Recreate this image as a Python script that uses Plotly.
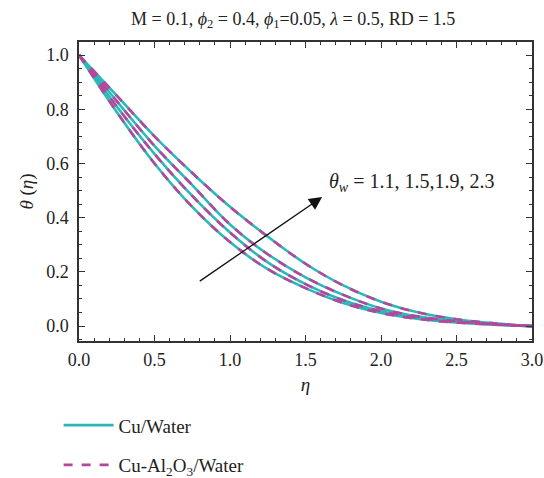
import plotly.graph_objects as go

eta = [0.0, 0.25, 0.5, 0.75, 1.0, 1.25, 1.5, 1.75, 2.0, 2.25, 2.5, 2.75, 3.0]
theta_w_11 = [1.0, 0.79, 0.60, 0.44, 0.31, 0.21, 0.14, 0.085, 0.048, 0.026, 0.013, 0.005, 0.0]
theta_w_15 = [1.0, 0.81, 0.635, 0.48, 0.345, 0.235, 0.155, 0.095, 0.055, 0.03, 0.015, 0.006, 0.0]
theta_w_19 = [1.0, 0.83, 0.665, 0.52, 0.375, 0.265, 0.18, 0.115, 0.065, 0.035, 0.018, 0.007, 0.0]
theta_w_23 = [1.0, 0.85, 0.70, 0.565, 0.44, 0.33, 0.23, 0.15, 0.09, 0.05, 0.025, 0.01, 0.0]
curves = [theta_w_11, theta_w_15, theta_w_19, theta_w_23]
series_names = ["Cu/Water", "Cu-Al<sub>2</sub>O<sub>3</sub>/Water"]

CYAN = "#2BB8B8"
MAG = "#B4479C"
FONT = "Liberation Serif"
TXT = "#222222"

fig = go.Figure()
for i, c in enumerate(curves):
    fig.add_trace(go.Scatter(x=eta, y=c, mode="lines", line=dict(color=CYAN, width=2.6, shape="spline"),
                             name=series_names[0], legendgroup="a", showlegend=(i == 0)))
for i, c in enumerate(curves):
    fig.add_trace(go.Scatter(x=eta, y=c, mode="lines", line=dict(color=MAG, width=2.6, dash="dash", shape="spline"),
                             name=series_names[1], legendgroup="b", showlegend=(i == 0)))

axis_common = dict(showline=True, linecolor="#333333", linewidth=1.5, mirror="allticks",
                   ticks="inside", ticklen=6, tickcolor="#333333", showgrid=False, zeroline=False,
                   automargin=False,
                   tickfont=dict(family=FONT, size=18, color=TXT))

fig.update_xaxes(range=[0, 3.0], dtick=0.5, tickformat=".1f", ticklabelstandoff=2,
                 minor=dict(dtick=0.1, ticks="inside", ticklen=3, tickcolor="#333333"),
                 title=dict(text="<i>η</i>", font=dict(family=FONT, size=19, color=TXT), standoff=8),
                 **axis_common)
fig.update_yaxes(range=[-0.055, 1.048], dtick=0.2, tickformat=".1f", ticklabelstandoff=5,
                 minor=dict(dtick=0.05, ticks="inside", ticklen=3, tickcolor="#333333"),
                 title=dict(text="<i>θ</i> (<i>η</i>)", font=dict(family=FONT, size=19, color=TXT), standoff=8),
                 **axis_common)

fig.add_annotation(x=1.61, y=0.476, ax=0.79, ay=0.162, xref="x", yref="y", axref="x", ayref="y",
                   text="", showarrow=True, arrowhead=2, arrowsize=2.0, arrowwidth=1.3, arrowcolor="#111111")
fig.add_annotation(x=1.64, y=0.528, xref="x", yref="y", xanchor="left", yanchor="middle",
                   text="<i>θ</i><sub><i>w</i></sub> = 1.1, 1.5,1.9, 2.3", showarrow=False,
                   font=dict(family=FONT, size=20, color=TXT))

fig.update_layout(
    width=544, height=478,
    margin=dict(l=79, r=12, t=42, b=137),
    paper_bgcolor="white", plot_bgcolor="white",
    title=dict(text="M = 0.1, <i>ϕ</i><sub>2</sub> = 0.4, <i>ϕ</i><sub>1</sub>=0.05, <i>λ</i> = 0.5, RD = 1.5",
               x=0.539, xanchor="center", y=0.975, yanchor="top",
               font=dict(family=FONT, size=18, color=TXT)),
    legend=dict(xref="paper", yref="container", x=-0.045, xanchor="left", y=0.15, yanchor="top",
                orientation="v", tracegroupgap=12, itemwidth=50,
                font=dict(family=FONT, size=19, color=TXT), bgcolor="rgba(0,0,0,0)"),
    showlegend=True,
)

fig.write_html("out.html", config={"displayModeBar": False},
               post_script="document.body.style.margin='0';")
